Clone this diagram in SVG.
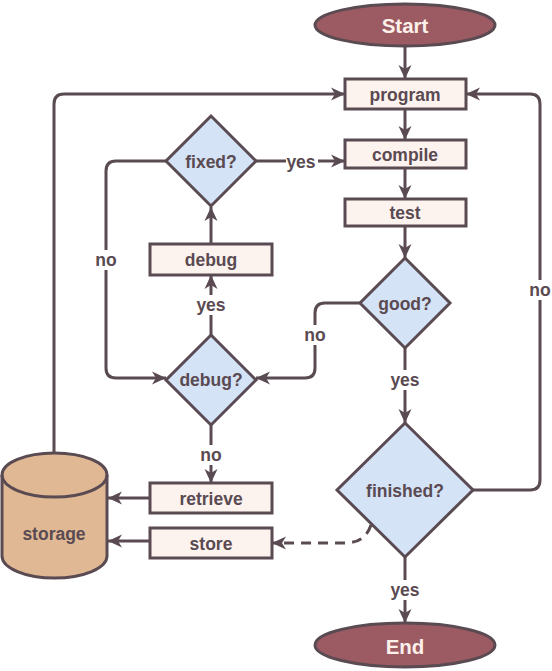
<svg xmlns="http://www.w3.org/2000/svg" width="552" height="671" viewBox="0 0 552 671">
<defs>
<marker id="ah" markerUnits="userSpaceOnUse" markerWidth="16" markerHeight="16" viewBox="0 0 16 16" refX="15" refY="8" orient="auto">
<path d="M1,1.5 L15,8 L1,14.5 L5,8 z" fill="#5a4a52"/>
</marker>
<style>
.ln{fill:none;stroke:#5a4a52;stroke-width:3;stroke-linejoin:round}
.box{fill:#fdf3ee;stroke:#5a4a52;stroke-width:3}
.dia{fill:#d5e3f7;stroke:#5a4a52;stroke-width:3;stroke-linejoin:miter}
.term{fill:#9c5a62;stroke:#5a4a52;stroke-width:3}
.t{font-family:"Liberation Sans",Arial,sans-serif;font-weight:bold;font-size:17.5px;fill:#5a4a52;text-anchor:middle;dominant-baseline:central}
.tt{font-family:"Liberation Sans",Arial,sans-serif;font-weight:bold;font-size:20.5px;fill:#fdf0ea;text-anchor:middle;dominant-baseline:central}
.bg{fill:#ffffff}
</style>
</defs>
<rect width="552" height="671" fill="#ffffff"/>
<g id="connectors">
<path class="ln" d="M405,46 V79" marker-end="url(#ah)"/>
<path class="ln" d="M405,109 V140" marker-end="url(#ah)"/>
<path class="ln" d="M405,168 V199" marker-end="url(#ah)"/>
<path class="ln" d="M405,226 V258" marker-end="url(#ah)"/>
<path class="ln" d="M405,348 V423" marker-end="url(#ah)"/>
<path class="ln" d="M405,557 V623" marker-end="url(#ah)"/>
<path class="ln" d="M473,490 H530 Q540,490 540,480 V104 Q540,94 530,94 H466" marker-end="url(#ah)"/>
<path class="ln" d="M256,161 H345" marker-end="url(#ah)"/>
<path class="ln" d="M166,161 H116 Q106,161 106,171 V368 Q106,378 116,378 H166" marker-end="url(#ah)"/>
<path class="ln" d="M360,303 H325 Q315,303 315,313 V368 Q315,378 305,378 H256" marker-end="url(#ah)"/>
<path class="ln" d="M211,335 V275" marker-end="url(#ah)"/>
<path class="ln" d="M211,244 V207" marker-end="url(#ah)"/>
<path class="ln" d="M211,425 V483" marker-end="url(#ah)"/>
<path class="ln" d="M150,498 H108" marker-end="url(#ah)"/>
<path class="ln" d="M150,541 H108" marker-end="url(#ah)"/>
<path class="ln" d="M54,453 V104 Q54,94 64,94 H345" marker-end="url(#ah)"/>
<path class="ln" d="M371,525 Q365,543 345,543 H272" stroke-dasharray="10,7" marker-end="url(#ah)"/>
<rect class="bg" x="524" y="280" width="32" height="20"/>
<text class="t" x="540" y="290">no</text>
<rect class="bg" x="286" y="152" width="32" height="18"/>
<text class="t" x="301" y="162">yes</text>
<rect class="bg" x="90" y="250" width="32" height="20"/>
<text class="t" x="106" y="260">no</text>
<rect class="bg" x="299" y="325" width="32" height="20"/>
<text class="t" x="315" y="335">no</text>
<rect class="bg" x="194" y="295" width="34" height="20"/>
<text class="t" x="211" y="305">yes</text>
<rect class="bg" x="195" y="445" width="32" height="20"/>
<text class="t" x="211" y="455">no</text>
<rect class="bg" x="388" y="370" width="34" height="20"/>
<text class="t" x="405" y="380">yes</text>
<rect class="bg" x="388" y="580" width="34" height="20"/>
<text class="t" x="405" y="590">yes</text>
</g>
<g id="start"><ellipse class="term" cx="405" cy="25" rx="90" ry="21"/><text class="tt" x="405" y="25">Start</text></g>
<g id="program"><rect class="box" x="345" y="79" width="121" height="30"/><text class="t" x="405" y="95">program</text></g>
<g id="compile"><rect class="box" x="345" y="140" width="121" height="28"/><text class="t" x="405" y="155">compile</text></g>
<g id="test"><rect class="box" x="345" y="199" width="121" height="27"/><text class="t" x="405" y="213">test</text></g>
<g id="good"><polygon class="dia" points="405,258 450,303 405,348 360,303"/><text class="t" x="405" y="304">good?</text></g>
<g id="finished"><polygon class="dia" points="405,423 473,490 405,557 337,490"/><text class="t" x="405" y="491">finished?</text></g>
<g id="end"><ellipse class="term" cx="405" cy="645" rx="90" ry="22"/><text class="tt" x="405" y="646">End</text></g>
<g id="fixed"><polygon class="dia" points="211,116 256,161 211,206 166,161"/><text class="t" x="211" y="162">fixed?</text></g>
<g id="debug"><rect class="box" x="150" y="244" width="122" height="31"/><text class="t" x="211" y="260">debug</text></g>
<g id="debugq"><polygon class="dia" points="211,335 256,380 211,425 166,380"/><text class="t" x="211" y="380">debug?</text></g>
<g id="retrieve"><rect class="box" x="150" y="483" width="122" height="30"/><text class="t" x="211" y="499">retrieve</text></g>
<g id="store"><rect class="box" x="150" y="528" width="122" height="30"/><text class="t" x="211" y="544">store</text></g>
<g id="storage">
<path d="M2,475 V556 A52.5,22 0 0 0 107,556 V475 A52.5,22 0 0 0 2,475 z" fill="#e0b994" stroke="#5a4a52" stroke-width="3"/>
<path d="M2,475 A52.5,22 0 0 0 107,475" fill="none" stroke="#5a4a52" stroke-width="3"/>
<text class="t" x="54" y="534">storage</text>
</g>
</svg>
